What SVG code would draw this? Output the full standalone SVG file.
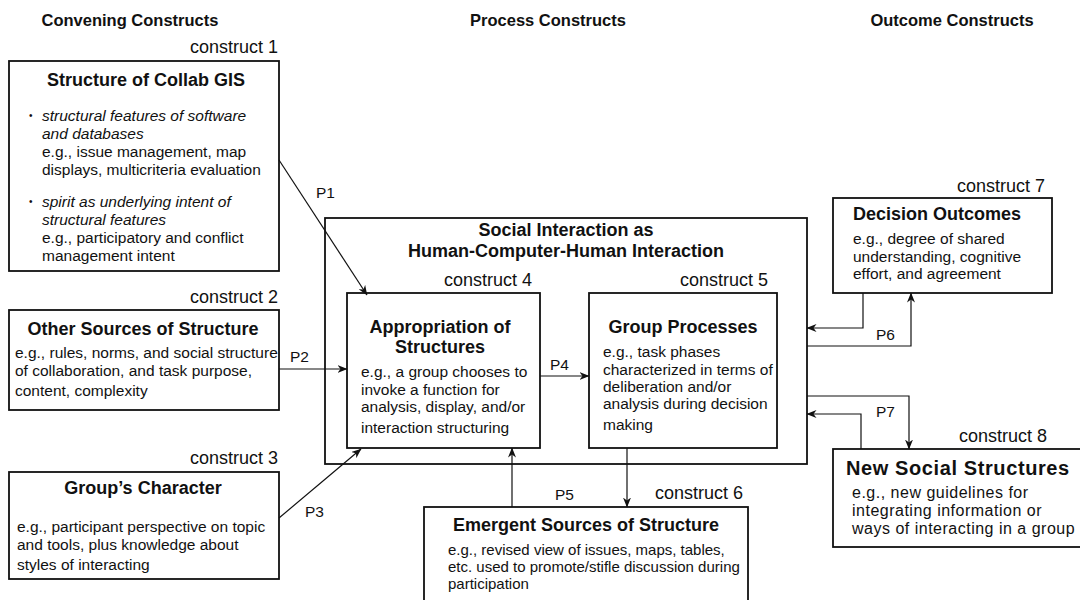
<svg xmlns="http://www.w3.org/2000/svg" width="1080" height="600" viewBox="0 0 1080 600">
<defs>
<marker id="ah" viewBox="0 0 10 8" refX="9.5" refY="4" markerWidth="10" markerHeight="8" markerUnits="userSpaceOnUse" orient="auto">
<path d="M0,0 L10,4 L0,8 L3,4 z" fill="#111"/>
</marker>
<style>
text{font-family:"Liberation Sans",Arial,Helvetica,sans-serif;fill:#111}
.hd{font-size:16.5px;font-weight:bold;text-anchor:middle}
.cn{font-size:18px;text-anchor:end}
.tt{font-size:18px;font-weight:bold;text-anchor:middle}
.tl{font-size:18px;font-weight:bold}
.bd{font-size:15.5px}
.bu{font-size:10px}
.sm{font-size:15px}
.it{font-size:15.5px;font-style:italic}
.pl{font-size:15.5px}
.wd{font-size:16px;letter-spacing:0.5px}
.box{fill:#fff;stroke:#111;stroke-width:1.8}
.outer{fill:none;stroke:#111;stroke-width:1.8}
.cx{fill:none;stroke:#111;stroke-width:1.2;marker-end:url(#ah)}
</style>
</defs>
<rect width="1080" height="600" fill="#fff"/>

<g id="headings">
<text class="hd" x="130" y="26">Convening Constructs</text>
<text class="hd" x="548" y="26">Process Constructs</text>
<text class="hd" x="952" y="26">Outcome Constructs</text>
</g>

<g id="outer">
<rect class="outer" x="325" y="218" width="482" height="246"/>
<text class="tt" x="566" y="236">Social Interaction as</text>
<text class="tt" x="566" y="257">Human-Computer-Human Interaction</text>
</g>

<g id="construct1">
<text class="cn" x="278" y="53">construct 1</text>
<rect class="box" x="9" y="61" width="270" height="210"/>
<text class="tt" x="146" y="86">Structure of Collab GIS</text>
<text class="bu" x="29" y="119">•</text>
<text class="it" x="42" y="121">structural features of software</text>
<text class="it" x="42" y="139">and databases</text>
<text class="bd" x="42" y="157">e.g., issue management, map</text>
<text class="bd" x="42" y="175">displays, multicriteria evaluation</text>
<text class="bu" x="29" y="205">•</text>
<text class="it" x="42" y="207">spirit as underlying intent of</text>
<text class="it" x="42" y="225">structural features</text>
<text class="bd" x="42" y="243">e.g., participatory and conflict</text>
<text class="bd" x="42" y="261">management intent</text>
</g>

<g id="construct2">
<text class="cn" x="278" y="303">construct 2</text>
<rect class="box" x="9" y="310" width="270" height="100"/>
<text class="tt" x="143" y="335">Other Sources of Structure</text>
<text class="bd" x="15" y="358">e.g., rules, norms, and social structure</text>
<text class="bd" x="15" y="376">of collaboration, and task purpose,</text>
<text class="bd" x="15" y="396">content, complexity</text>
</g>

<g id="construct3">
<text class="cn" x="278" y="464">construct 3</text>
<rect class="box" x="9" y="472" width="270" height="107"/>
<text class="tt" x="143" y="494">Group’s Character</text>
<text class="bd" x="17" y="532">e.g., participant perspective on topic</text>
<text class="bd" x="17" y="550">and tools, plus knowledge about</text>
<text class="bd" x="17" y="570">styles of interacting</text>
</g>

<g id="construct4">
<text class="cn" x="532" y="286">construct 4</text>
<rect class="box" x="347" y="293" width="193" height="155"/>
<text class="tt" x="440" y="333">Appropriation of</text>
<text class="tt" x="440" y="353">Structures</text>
<text class="bd" x="361" y="377">e.g., a group chooses to</text>
<text class="bd" x="361" y="395">invoke a function for</text>
<text class="bd" x="361" y="412">analysis, display, and/or</text>
<text class="bd" x="361" y="433">interaction structuring</text>
</g>

<g id="construct5">
<text class="cn" x="768" y="286">construct 5</text>
<rect class="box" x="589" y="293" width="188" height="155"/>
<text class="tt" x="683" y="333">Group Processes</text>
<text class="bd" x="603" y="357">e.g., task phases</text>
<text class="bd" x="603" y="375">characterized in terms of</text>
<text class="bd" x="603" y="392">deliberation and/or</text>
<text class="bd" x="603" y="409">analysis during decision</text>
<text class="bd" x="603" y="430">making</text>
</g>

<g id="construct6">
<text class="cn" x="743" y="499">construct 6</text>
<rect class="box" x="424" y="507" width="324" height="100"/>
<text class="tt" x="586" y="531">Emergent Sources of Structure</text>
<text class="sm" x="448" y="555">e.g., revised view of issues, maps, tables,</text>
<text class="sm" x="448" y="572">etc. used to promote/stifle discussion during</text>
<text class="sm" x="448" y="589">participation</text>
</g>

<g id="construct7">
<text class="cn" x="1045" y="192">construct 7</text>
<rect class="box" x="833" y="198" width="219" height="95"/>
<text class="tl" x="853" y="220">Decision Outcomes</text>
<text class="bd" x="853" y="244">e.g., degree of shared</text>
<text class="bd" x="853" y="262">understanding, cognitive</text>
<text class="bd" x="853" y="279">effort, and agreement</text>
</g>

<g id="construct8">
<text class="cn" x="1047" y="442">construct 8</text>
<rect class="box" x="833" y="449" width="260" height="98"/>
<text class="tl" x="846" y="475" style="font-size:20px;letter-spacing:0.6px">New Social Structures</text>
<text class="wd" x="852" y="498">e.g., new guidelines for</text>
<text class="wd" x="852" y="516">integrating information or</text>
<text class="wd" x="852" y="534">ways of interacting in a group</text>
</g>

<g id="connectors">
<path class="cx" d="M279,160 L367,295"/>
<path class="cx" d="M279,369 L347,369"/>
<path class="cx" d="M279,518 L361,449"/>
<path class="cx" d="M540,376 L589,376"/>
<path class="cx" d="M512,507 L512,448"/>
<path class="cx" d="M627,448 L627,507"/>
<path class="cx" d="M863,293 L863,328 L807,328"/>
<path class="cx" d="M807,346 L911,346 L911,293"/>
<path class="cx" d="M807,396 L909,396 L909,449"/>
<path class="cx" d="M861,449 L861,414 L807,414"/>
</g>

<g id="labels">
<text class="pl" x="316" y="198">P1</text>
<text class="pl" x="290" y="362">P2</text>
<text class="pl" x="305" y="517">P3</text>
<text class="pl" x="550" y="370">P4</text>
<text class="pl" x="555" y="500">P5</text>
<text class="pl" x="876" y="340">P6</text>
<text class="pl" x="876" y="417">P7</text>
</g>
</svg>
